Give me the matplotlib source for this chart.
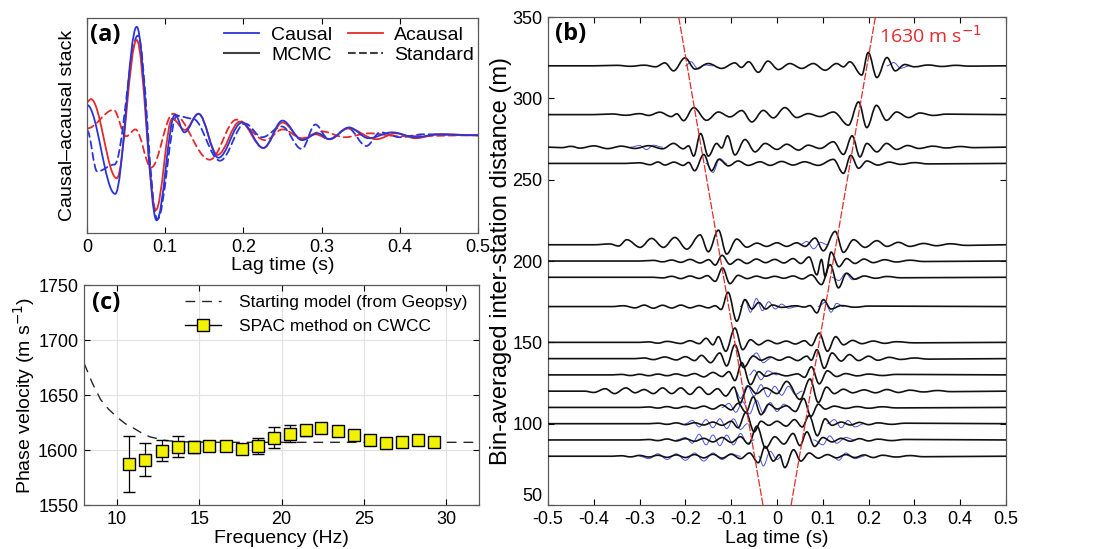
import matplotlib
matplotlib.use("Agg")
import matplotlib.pyplot as plt
from matplotlib.path import Path
from matplotlib.patches import PathPatch
from matplotlib.lines import Line2D

plt.rcParams["font.family"] = ["Liberation Sans", "DejaVu Sans"]
plt.rcParams["axes.unicode_minus"] = False
plt.rcParams["xtick.direction"] = "in"
plt.rcParams["ytick.direction"] = "in"

# ---------------- panel (a): causal / acausal stacks (extrema)
causal_mcmc = [(0, 0.31), (0.036, -0.60), (0.0635, 1.11), (0.089, -0.87), (0.1125, 0.21),
               (0.1245, 0.03), (0.1425, 0.22), (0.168, -0.23), (0.198, 0.13), (0.2255, -0.13),
               (0.250, 0.15), (0.275, -0.05), (0.295, 0.02), (0.31, -0.04), (0.335, 0.08),
               (0.36, -0.03), (0.39, 0.03), (0.42, -0.02), (0.45, 0.01), (0.5, 0.0)]
acausal_mcmc = [(0, 0.34), (0.005, 0.37), (0.038, -0.44), (0.0635, 0.975), (0.088, -0.765),
                (0.109, 0.17), (0.125, 0.055), (0.1425, 0.22), (0.167, -0.20), (0.1955, 0.14),
                (0.2255, -0.13), (0.25, 0.13), (0.275, -0.04), (0.292, 0.01), (0.31, -0.04),
                (0.334, 0.07), (0.37, -0.04), (0.395, 0.02), (0.42, -0.03), (0.45, 0.01), (0.5, 0.0)]
causal_std = [(0, 0.05), (0.013, -0.37), (0.035, -0.30), (0.065, 1.02), (0.090, -0.86),
              (0.115, 0.20), (0.135, 0.17), (0.17, -0.26), (0.202, 0.12), (0.224, -0.02),
              (0.249, 0.09), (0.2745, -0.14), (0.292, 0.11), (0.309, -0.04), (0.334, 0.07),
              (0.357, -0.11), (0.375, 0.03), (0.40, -0.02), (0.43, 0.01), (0.5, 0.0)]
acausal_std = [(0, 0.07), (0.034, 0.26), (0.050, -0.01), (0.062, 0.06), (0.082, -0.33),
               (0.110, 0.22), (0.157, -0.25), (0.191, 0.16), (0.228, -0.05), (0.25, 0.06),
               (0.275, -0.03), (0.30, 0.04), (0.33, -0.02), (0.36, 0.02), (0.40, -0.01), (0.5, 0.0)]
a_xticks = [0, 0.1, 0.2, 0.3, 0.4, 0.5]
a_xticklabels = ["0", "0.1", "0.2", "0.3", "0.4", "0.5"]

# ---------------- panel (c): phase velocity
spac_freq = [10.73, 11.72, 12.71, 13.70, 14.69, 15.62, 16.60, 17.60, 18.57, 19.52,
             20.49, 21.48, 22.42, 23.41, 24.40, 25.35, 26.33, 27.33, 28.28, 29.25]
spac_vel = [1587, 1591, 1599.5, 1603, 1603, 1604, 1604, 1600.5, 1603.5, 1611,
            1615, 1618, 1620, 1617, 1613.5, 1609, 1606.5, 1607.5, 1609, 1607.5]
spac_err = [25.5, 15, 9.5, 9.5, 5.5, 2.5, 3, 3, 7.5, 9.5,
            8, 5, 4, 3, 3, 3, 2, 2, 3, 3]
model_freq = [8, 8.5, 9, 9.5, 10, 10.5, 11, 11.5, 12, 13, 14, 16, 20, 32]
model_vel = [1679, 1661, 1646, 1637, 1630, 1624, 1620, 1615.5, 1612, 1608.5, 1607.5, 1607, 1607, 1607]

# ---------------- panel (b): traces, (lag time, amplitude in m) extrema
velocity = 1630
trace_320 = [(-0.5, 0), (-0.40, 0), (-0.35, 0.3), (-0.32, -0.3), (-0.29, 0.4), (-0.265, -0.6),
             (-0.245, 1.8), (-0.226, -3.1), (-0.201, 4.9), (-0.179, -2.0), (-0.150, 1.4),
             (-0.121, -1.6), (-0.092, 1.8), (-0.078, -1.0), (-0.062, 2.5), (-0.041, -4.0),
             (-0.020, 2.9), (0.003, -2.3), (0.028, 1.4), (0.054, -1.6), (0.079, 1.4),
             (0.105, -2.7), (0.130, 1.4), (0.145, -0.6), (0.159, 2.5), (0.185, -5.7),
             (0.199, 8.2), (0.218, -7.2), (0.240, 5.1), (0.258, -3.1), (0.279, 0.8),
             (0.30, -0.6), (0.33, 0.5), (0.36, -0.4), (0.39, 0.3), (0.42, -0.2), (0.5, 0)]
trace_290 = [(-0.5, 0), (-0.40, 0), (-0.36, 0.4), (-0.33, -0.4), (-0.30, 0.6), (-0.28, -0.5),
             (-0.256, 1.5), (-0.231, -1.2), (-0.219, 0.5), (-0.204, -3.7), (-0.182, 4.3),
             (-0.154, -3.5), (-0.128, 1.6), (-0.103, -1.4), (-0.077, 2.5), (-0.055, -4.5),
             (-0.030, 2.6), (-0.008, -2.0), (0.017, 4.3), (0.043, -1.8), (0.068, 0.6),
             (0.094, -1.2), (0.123, 1.6), (0.156, -6.5), (0.178, 7.8), (0.196, -8.0),
             (0.217, 5.7), (0.239, -3.5), (0.261, 1.6), (0.287, -1.8), (0.312, 1.0),
             (0.341, -0.5), (0.37, 0.3), (0.5, 0)]
trace_270 = [(-0.5, 0), (-0.47, -0.3), (-0.45, 0.5), (-0.43, -0.6), (-0.40, 0.8), (-0.37, -0.9),
             (-0.34, 0.6), (-0.31, -0.8), (-0.28, 0.9), (-0.25, -1.0), (-0.226, 2.3),
             (-0.205, -1.0), (-0.193, 0.8), (-0.182, -5.5), (-0.167, 8.4), (-0.150, -5.5),
             (-0.132, 2.3), (-0.121, -0.5), (-0.108, 7.0), (-0.092, -4.8), (-0.070, 4.7),
             (-0.048, -2.9), (-0.026, 2.3), (0.0, -1.4), (0.021, 1.8), (0.047, -1.8),
             (0.068, 1.2), (0.094, -0.8), (0.123, 3.3), (0.145, -4.5), (0.164, 7.0),
             (0.181, -6.0), (0.196, 2.3), (0.218, -2.9), (0.239, 2.3), (0.261, -1.4),
             (0.285, 1.0), (0.31, -0.8), (0.34, 0.6), (0.37, -0.5), (0.40, 0.4),
             (0.43, -0.3), (0.5, 0)]
trace_260 = [(-0.5, 0), (-0.33, 0), (-0.30, 0.4), (-0.277, -0.8), (-0.26, 0.9), (-0.245, -1.0),
             (-0.225, 0.8), (-0.205, -1.2), (-0.193, 0.6), (-0.180, -4.5), (-0.160, 5.5),
             (-0.143, -4.5), (-0.127, 2.5), (-0.106, -1.5), (-0.085, 1.5), (-0.063, -1.2),
             (-0.037, 1.0), (-0.015, -1.2), (0.01, 1.2), (0.035, -1.0), (0.06, 1.0),
             (0.09, -1.2), (0.123, 2.5), (0.145, -6.1), (0.161, 5.0), (0.178, -3.0),
             (0.196, 1.5), (0.22, -1.0), (0.245, 0.8), (0.27, -0.6), (0.30, 0.5),
             (0.33, -0.3), (0.5, 0)]
trace_210 = [(-0.5, 0), (-0.40, 0), (-0.365, 0.5), (-0.346, -0.8), (-0.328, 3.1), (-0.299, -1.6),
             (-0.274, 3.9), (-0.248, -1.6), (-0.223, 4.5), (-0.197, -2.7), (-0.168, 6.1),
             (-0.150, -4.3), (-0.128, 9.0), (-0.110, -5.7), (-0.088, 3.5), (-0.066, -1.5),
             (-0.044, 1.0), (-0.023, -1.0), (0.0, 1.2), (0.021, -1.0), (0.043, 1.2),
             (0.061, -1.0), (0.083, 4.1), (0.101, -3.7), (0.127, 8.2), (0.145, -4.7),
             (0.167, 3.1), (0.192, -1.6), (0.218, 2.5), (0.240, -1.0), (0.265, 1.5),
             (0.29, -1.0), (0.32, 0.8), (0.348, -0.6), (0.378, 0.6), (0.414, -0.4), (0.5, 0)]
trace_200 = [(-0.5, 0), (-0.30, 0), (-0.27, 0.4), (-0.25, -0.5), (-0.23, 0.6), (-0.21, -0.8),
             (-0.19, 1.0), (-0.168, -1.2), (-0.149, 0.8), (-0.135, -2.5), (-0.120, 3.5),
             (-0.103, -2.0), (-0.085, 1.0), (-0.066, -1.5), (-0.045, 1.2), (-0.025, -1.0),
             (-0.005, 1.0), (0.015, -1.2), (0.035, 1.5), (0.052, -1.5), (0.070, 2.5),
             (0.087, -8.5), (0.097, 1.0), (0.105, -9.5), (0.118, 5.5), (0.135, -3.5),
             (0.152, 1.5), (0.17, -1.5), (0.19, 1.2), (0.21, -1.0), (0.235, 0.8),
             (0.26, -0.6), (0.29, 0.5), (0.32, -0.3), (0.5, 0)]
trace_190 = [(-0.5, 0), (-0.27, 0), (-0.25, -0.4), (-0.23, 0.6), (-0.21, -0.8), (-0.19, 0.8),
             (-0.17, -0.7), (-0.152, 1.0), (-0.135, -2.5), (-0.119, 5.7), (-0.103, -3.9),
             (-0.085, 1.2), (-0.065, -0.8), (-0.045, 0.7), (-0.025, -0.6), (-0.005, 0.6),
             (0.015, -0.6), (0.035, 0.8), (0.055, -1.0), (0.075, 1.5), (0.097, -4.5),
             (0.116, 7.8), (0.134, -6.5), (0.152, 2.5), (0.17, -1.2), (0.19, 0.8),
             (0.215, -0.6), (0.24, 0.5), (0.27, -0.3), (0.5, 0)]
trace_172 = [(-0.5, 0), (-0.36, 0), (-0.335, 0.5), (-0.31, -0.8), (-0.29, 0.9), (-0.27, -1.0),
             (-0.25, 0.8), (-0.23, -0.9), (-0.21, 0.9), (-0.19, -0.8), (-0.17, 0.6),
             (-0.15, -0.8), (-0.135, 0.5), (-0.122, -1.8), (-0.107, 8.8), (-0.088, -9.0),
             (-0.07, 4.3), (-0.055, -1.5), (-0.04, 2.5), (-0.025, -1.5), (-0.01, 1.0),
             (0.01, -0.5), (0.04, 0.5), (0.06, -0.3), (0.072, 0.6), (0.087, -3.9),
             (0.101, 4.3), (0.118, -1.5), (0.14, 0.6), (0.17, -0.4), (0.2, 0.3), (0.5, 0)]
trace_150 = [(-0.5, 0), (-0.3, 0), (-0.28, 0.3), (-0.26, -0.5), (-0.24, 0.6), (-0.21, -0.7),
             (-0.19, 1.0), (-0.17, -0.8), (-0.155, 2.5), (-0.14, -1.5), (-0.128, 3.5),
             (-0.112, -5.5), (-0.092, 8.8), (-0.075, -4.5), (-0.058, 1.6), (-0.04, -1.5),
             (-0.02, 1.2), (0.0, -0.8), (0.02, 0.8), (0.04, -1.0), (0.06, 1.0), (0.075, -2.0),
             (0.092, 5.7), (0.11, -5.5), (0.128, 3.5), (0.145, -1.5), (0.165, 1.2),
             (0.185, -0.8), (0.21, 0.8), (0.235, -0.6), (0.26, 0.4), (0.3, -0.3), (0.5, 0)]
trace_140 = [(-0.5, 0), (-0.31, 0), (-0.29, 0.4), (-0.27, -0.6), (-0.245, 1.0), (-0.22, -0.8),
             (-0.2, 1.2), (-0.18, -1.2), (-0.165, 2.0), (-0.145, -2.5), (-0.125, 3.5),
             (-0.11, -4.5), (-0.092, 8.5), (-0.073, -5.5), (-0.052, 1.6), (-0.035, -1.0),
             (-0.015, 1.0), (0.005, -1.0), (0.025, 1.0), (0.045, -1.2), (0.065, 1.5),
             (0.075, -1.0), (0.087, 5.5), (0.103, -6.0), (0.12, 3.5), (0.14, -1.5),
             (0.158, 2.5), (0.178, -1.2), (0.2, 1.5), (0.22, -1.0), (0.245, 0.8),
             (0.27, -0.5), (0.3, 0.4), (0.33, -0.3), (0.5, 0)]
trace_130 = [(-0.5, 0), (-0.36, 0), (-0.34, 0.3), (-0.32, -0.4), (-0.30, 0.4), (-0.28, -0.5),
             (-0.26, 0.5), (-0.24, -0.5), (-0.22, 0.6), (-0.20, -0.6), (-0.18, 0.8),
             (-0.16, -1.2), (-0.14, 1.5), (-0.12, -1.0), (-0.105, 2.0), (-0.092, -3.5),
             (-0.077, 7.5), (-0.058, -6.0), (-0.04, 2.0), (-0.025, -0.8), (-0.005, 1.0),
             (0.02, -0.6), (0.045, 0.6), (0.06, -1.5), (0.075, 5.0), (0.092, -5.5),
             (0.11, 2.5), (0.13, -1.0), (0.15, 0.8), (0.175, -0.6), (0.2, 0.5),
             (0.23, -0.4), (0.26, 0.3), (0.5, 0)]
trace_120 = [(-0.5, 0), (-0.42, 0), (-0.40, -0.8), (-0.375, 1.5), (-0.355, -1.5), (-0.33, 2.0),
             (-0.31, -1.0), (-0.29, 1.0), (-0.27, -1.5), (-0.25, 2.0), (-0.23, -1.5),
             (-0.21, 2.0), (-0.19, -2.0), (-0.17, 2.5), (-0.15, -2.0), (-0.13, 1.5),
             (-0.112, -3.0), (-0.094, 2.5), (-0.081, -7.2), (-0.063, 3.1), (-0.045, -1.5),
             (-0.025, 2.0), (0.0, -1.5), (0.021, 6.0), (0.05, -5.1), (0.072, 7.5),
             (0.09, -7.0), (0.108, 2.5), (0.125, -1.5), (0.145, 1.2), (0.165, -1.0),
             (0.19, 0.8), (0.215, -1.0), (0.24, 1.0), (0.265, -0.8), (0.29, 0.6),
             (0.32, -0.5), (0.35, 0.4), (0.38, -0.3), (0.5, 0)]
trace_110 = [(-0.5, 0), (-0.30, 0), (-0.28, 0.3), (-0.26, -0.4), (-0.24, 0.5), (-0.22, -0.5),
             (-0.20, 0.6), (-0.18, -0.6), (-0.16, 0.8), (-0.14, -1.0), (-0.12, 1.5),
             (-0.10, -1.5), (-0.085, 2.5), (-0.068, -3.0), (-0.052, 6.5), (-0.035, -4.5),
             (-0.018, 2.0), (0.0, -1.0), (0.02, 1.0), (0.04, -2.5), (0.058, 5.5),
             (0.074, -5.5), (0.09, 2.0), (0.105, -1.0), (0.125, 0.8), (0.15, -0.6),
             (0.175, 0.5), (0.2, -0.5), (0.23, 0.4), (0.26, -0.3), (0.5, 0)]
trace_100 = [(-0.5, 0), (-0.28, 0), (-0.26, 0.3), (-0.24, -0.4), (-0.22, 0.5), (-0.20, -0.6),
             (-0.18, 0.6), (-0.16, -0.8), (-0.14, 1.0), (-0.12, -1.0), (-0.10, 1.5),
             (-0.085, -2.5), (-0.068, 7.0), (-0.05, -5.0), (-0.035, 1.5), (-0.018, -1.0),
             (0.0, 1.5), (0.02, -1.5), (0.038, 2.5), (0.055, -2.0), (0.07, 5.0),
             (0.088, -7.4), (0.105, 3.0), (0.12, -1.0), (0.14, 1.0), (0.16, -0.8),
             (0.18, 0.8), (0.2, -0.6), (0.22, 0.5), (0.25, -0.4), (0.28, 0.3), (0.5, 0)]
trace_90 = [(-0.5, 0), (-0.30, 0), (-0.28, 0.3), (-0.26, -0.4), (-0.24, 0.6), (-0.22, -0.6),
            (-0.20, 0.8), (-0.18, -0.8), (-0.16, 1.0), (-0.14, -1.2), (-0.12, 1.5),
            (-0.10, -1.5), (-0.08, 2.0), (-0.062, -2.5), (-0.044, 8.5), (-0.025, -5.0),
            (-0.005, 2.0), (0.015, -2.5), (0.035, 4.0), (0.05, -3.5), (0.065, 5.0),
            (0.082, -4.0), (0.1, 1.5), (0.12, -1.2), (0.14, 1.0), (0.16, -0.8),
            (0.18, 0.8), (0.2, -0.6), (0.22, 0.5), (0.25, -0.4), (0.28, 0.3), (0.5, 0)]
trace_80 = [(-0.5, 0), (-0.36, 0), (-0.34, 0.3), (-0.32, -0.4), (-0.30, 0.5), (-0.28, -0.5),
            (-0.26, 0.6), (-0.24, -0.7), (-0.22, 0.8), (-0.20, -0.8), (-0.18, 1.0),
            (-0.16, -1.0), (-0.14, 1.2), (-0.12, -1.2), (-0.10, 1.2), (-0.08, -1.5),
            (-0.06, 2.0), (-0.041, -4.0), (-0.026, 6.0), (-0.008, -3.0), (0.005, 1.0),
            (0.017, -7.0), (0.036, 4.0), (0.052, -3.0), (0.07, 2.0), (0.09, -1.2),
            (0.11, 1.0), (0.13, -1.0), (0.15, 1.0), (0.17, -0.8), (0.19, 0.8),
            (0.21, -0.8), (0.23, 0.6), (0.26, -0.5), (0.29, 0.4), (0.32, -0.3), (0.5, 0)]

distances = [320, 290, 270, 260, 210, 200, 190, 172, 150, 140, 130, 120, 110, 100, 90, 80]
mcmc_traces = [trace_320, trace_290, trace_270, trace_260, trace_210, trace_200, trace_190,
               trace_172, trace_150, trace_140, trace_130, trace_120, trace_110, trace_100,
               trace_90, trace_80]

# standard-stack (blue) traces, only where they part from the MCMC ones
blue_parts = [
    (320, [(-0.20, 0), (-0.188, 2.5), (-0.172, -2.0), (-0.158, 0.5), (-0.14, 0)]),
    (320, [(0.24, 0), (0.255, 2.0), (0.27, -1.5), (0.29, 0)]),
    (270, [(-0.32, 0), (-0.30, 1.0), (-0.285, -1.5), (-0.27, 1.2), (-0.25, 0)]),
    (260, [(-0.155, 0), (-0.14, -5.5), (-0.125, 3.0), (-0.11, 0)]),
    (210, [(0.05, 0), (0.065, 2.0), (0.08, -2.5), (0.095, 1.5), (0.11, 0)]),
    (190, [(0.12, 0), (0.135, -2.0), (0.15, 2.5), (0.165, -1.5), (0.18, 0)]),
    (172, [(-0.08, 0), (-0.07, 4.0), (-0.058, -3.5), (-0.045, 5.0), (-0.032, -2.5),
           (-0.018, 3.0), (-0.004, -1.5), (0.01, 1.5), (0.025, -1.0), (0.045, 0)]),
    (172, [(0.09, 0), (0.105, 2.5), (0.118, -3.5), (0.13, 2.0), (0.145, 0)]),
    (140, [(-0.06, 0), (-0.045, 3.5), (-0.03, -2.5), (-0.015, 0)]),
    (130, [(-0.06, 0), (-0.05, 3.0), (-0.035, -3.0), (-0.02, 2.5), (0.0, 0)]),
    (120, [(-0.09, 0), (-0.08, -4.5), (-0.065, 3.5), (-0.05, -3.0), (-0.035, 4.0),
           (-0.02, -3.5), (-0.005, 3.0), (0.01, -2.5), (0.025, 3.0), (0.04, -2.0), (0.055, 0)]),
    (110, [(-0.12, 0), (-0.105, 2.5), (-0.09, -3.0), (-0.075, 3.5), (-0.06, -4.0),
           (-0.045, 4.5), (-0.03, -3.5), (-0.015, 3.0), (0.0, -2.5), (0.015, 2.0), (0.03, 0)]),
    (100, [(-0.2, 0), (-0.185, 2.0), (-0.17, -2.0), (-0.155, 2.5), (-0.14, -2.5),
           (-0.125, 3.0), (-0.11, -3.0), (-0.095, 3.0), (-0.08, -3.5), (-0.065, 0)]),
    (100, [(0.11, 0), (0.125, 2.5), (0.14, -2.5), (0.155, 2.0), (0.17, -2.0), (0.19, 0)]),
    (90, [(-0.22, 0), (-0.2, 1.5), (-0.185, -2.0), (-0.17, 3.5), (-0.155, -3.0),
          (-0.14, 3.0), (-0.125, -3.5), (-0.11, 3.0), (-0.095, -3.0), (-0.08, 4.0),
          (-0.065, -2.0), (-0.05, 0)]),
    (90, [(0.08, 0), (0.1, -3.0), (0.115, 2.5), (0.13, -2.0), (0.15, 1.5), (0.17, 0)]),
    (80, [(-0.3, 0), (-0.28, -1.5), (-0.26, 1.5), (-0.24, -2.0), (-0.22, 1.5), (-0.2, -2.5),
          (-0.18, 2.0), (-0.16, -3.0), (-0.14, 2.0), (-0.12, -2.0), (-0.1, 1.5), (-0.08, 0)]),
    (80, [(-0.04, 0), (-0.03, -6.0), (-0.015, 3.0), (0.0, -2.0), (0.01, 0)]),
    (80, [(0.12, 0), (0.135, -2.5), (0.15, 2.0), (0.17, -1.5), (0.19, 0)]),
]
b_xticks = [-0.5, -0.4, -0.3, -0.2, -0.1, 0, 0.1, 0.2, 0.3, 0.4, 0.5]
b_xticklabels = ["-0.5", "-0.4", "-0.3", "-0.2", "-0.1", "0", "0.1", "0.2", "0.3", "0.4", "0.5"]
b_yticks = [50, 100, 150, 200, 250, 300, 350]


def wiggle(ax, pts, base=0.0, **kw):
    # smooth curve through the read extrema (horizontal tangent at each one)
    verts = [(pts[0][0], base + pts[0][1])]
    codes = [Path.MOVETO]
    for (t0, y0), (t1, y1) in zip(pts[:-1], pts[1:]):
        dt = t1 - t0
        verts += [(t0 + 0.36 * dt, base + y0), (t1 - 0.36 * dt, base + y1), (t1, base + y1)]
        codes += [Path.CURVE4] * 3
    ax.add_patch(PathPatch(Path(verts, codes), fill=False, capstyle="round",
                           joinstyle="round", **kw))


BLUE = "#2a35d8"
RED = "#e32b2b"
LABEL_FONT = ["Open Sans", "DejaVu Sans"]

fig = plt.figure(figsize=(11.13, 5.49), dpi=100)
ax_a = fig.add_axes([0.0782, 0.5756, 0.3513, 0.3916])
ax_c = fig.add_axes([0.0755, 0.0801, 0.3549, 0.4007])
ax_b = fig.add_axes([0.4924, 0.0801, 0.4115, 0.8889])

# ---- (a)
wiggle(ax_a, acausal_std, edgecolor=RED, lw=1.3, linestyle=(0, (4, 2.5)))
wiggle(ax_a, causal_std, edgecolor=BLUE, lw=1.3, linestyle=(0, (4, 2.5)))
wiggle(ax_a, acausal_mcmc, edgecolor=RED, lw=1.3)
wiggle(ax_a, causal_mcmc, edgecolor=BLUE, lw=1.3)
ax_a.set_xlim(0, 0.5)
ax_a.set_ylim(-1.0, 1.2)
ax_a.set_xticks(a_xticks)
ax_a.set_xticklabels(a_xticklabels)
ax_a.set_yticks([])
ax_a.tick_params(axis="x", top=True, labelsize=13, length=4, pad=4)
ax_a.set_xlabel("Lag time (s)", fontsize=14, labelpad=1)
ax_a.set_ylabel("Causal\u2013acausal stack", fontsize=14, labelpad=8)
handles = [Line2D([], [], color=BLUE, lw=1.3, label="Causal"),
           Line2D([], [], color="0.25", lw=1.5, label="MCMC"),
           Line2D([], [], color=RED, lw=1.3, label="Acausal"),
           Line2D([], [], color="0.25", lw=1.5, ls="--", label="Standard")]
ax_a.legend(handles=handles, ncol=2, loc="upper right", bbox_to_anchor=(1.02, 1.015),
            frameon=False, fontsize=14, handlelength=1.8, columnspacing=0.8,
            handletextpad=0.6, labelspacing=0.1, borderaxespad=0.2)
ax_a.text(0.008, 0.975, "(a)", transform=ax_a.transAxes, ha="left", va="top",
          fontsize=17, fontweight="bold", family=LABEL_FONT)

# ---- (c)
ax_c.plot(model_freq, model_vel, color="0.15", lw=1.0, ls=(0, (7, 5)), zorder=2)
ax_c.errorbar(spac_freq, spac_vel, yerr=spac_err, fmt="s", color="black", ms=8,
              mfc="#f2f200", mec="black", mew=1.0, ecolor="black", elinewidth=0.9,
              capsize=4, capthick=0.9, zorder=3)
ax_c.set_xlim(8, 32)
ax_c.set_ylim(1550, 1750)
ax_c.set_xticks([10, 15, 20, 25, 30])
ax_c.set_yticks([1550, 1600, 1650, 1700, 1750])
ax_c.grid(True, color="0.88", lw=0.8)
ax_c.set_axisbelow(True)
ax_c.tick_params(top=True, right=True, labelsize=13, length=4, pad=4)
ax_c.set_xlabel("Frequency (Hz)", fontsize=14, labelpad=2)
ax_c.set_ylabel("Phase velocity (m s$^{-1}$)", fontsize=14, labelpad=1)
c_handles = [Line2D([], [], color="0.15", lw=1.0, ls=(0, (7, 5)),
                    label="Starting model (from Geopsy)"),
             Line2D([], [], color="black", lw=1.0, marker="s", ms=8, mfc="#f2f200",
                    mec="black", label="SPAC method on CWCC")]
ax_c.legend(handles=c_handles, loc="upper right", bbox_to_anchor=(1.0, 1.01), frameon=False,
            fontsize=12.5, handlelength=2.1, handletextpad=1.0, labelspacing=0.5,
            borderaxespad=0.3)
ax_c.text(0.02, 0.975, "(c)", transform=ax_c.transAxes, ha="left", va="top",
          fontsize=17, fontweight="bold", family=LABEL_FONT)

# ---- (b)
for d, pts in blue_parts:
    wiggle(ax_b, pts, base=d, edgecolor=BLUE, lw=0.7, alpha=0.85, zorder=2)
for d, pts in zip(distances, mcmc_traces):
    wiggle(ax_b, pts, base=d, edgecolor="#111111", lw=1.2, zorder=3)
d_line = [50, 350]
ax_b.plot([-d / velocity for d in d_line], d_line, color=RED, lw=0.9,
          ls=(0, (6, 1.5)), zorder=4)
ax_b.plot([d / velocity for d in d_line], d_line, color=RED, lw=0.9,
          ls=(0, (6, 1.5)), zorder=4)
ax_b.text(0.222, 338.5, "%d m s$^{-1}$" % velocity, color=RED, fontsize=14,
          ha="left", va="center", family=LABEL_FONT)
ax_b.set_xlim(-0.5, 0.5)
ax_b.set_ylim(50, 350)
ax_b.set_xticks(b_xticks)
ax_b.set_xticklabels(b_xticklabels)
ax_b.set_yticks(b_yticks)
ax_b.tick_params(top=True, right=True, labelsize=13, length=4, pad=4)
ax_b.get_yticklabels()[0].set_va("bottom")
ax_b.set_xlabel("Lag time (s)", fontsize=14, labelpad=2)
ax_b.set_ylabel("Bin-averaged inter-station distance (m)", fontsize=17, labelpad=0)
ax_b.text(0.015, 0.99, "(b)", transform=ax_b.transAxes, ha="left", va="top",
          fontsize=17, fontweight="bold", family=LABEL_FONT)

for ax in (ax_a, ax_b, ax_c):
    for s in ax.spines.values():
        s.set_color("0.35")
        s.set_linewidth(0.9)

fig.savefig("out.png", dpi=100)
